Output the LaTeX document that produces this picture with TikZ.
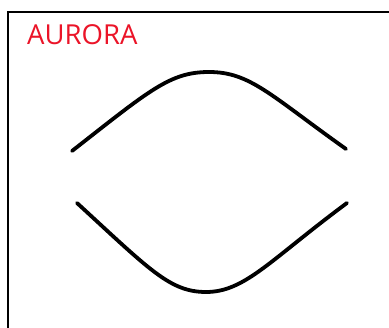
\documentclass[tikz,border=0pt]{standalone}
\usepackage{fontspec}
\setmainfont{Open Sans}
\definecolor{auroraRed}{RGB}{235,20,40}
\tikzset{frameline/.style={line width=2.5pt},
  arc/.style={line width=3.8pt, line cap=round}}
\begin{document}
\begin{tikzpicture}[x=1pt,y=-1pt]
\useasboundingbox[fill=white] (0,0) rectangle (389,328);
\draw[frameline] (8,330) -- (8,12) -- (392,12);
\node[anchor=base west, inner sep=0pt, text=auroraRed, font=\fontsize{27.5}{30}\selectfont] (title) at (27,44.5) {AURORA};
\draw[arc] (72,151) .. controls (150,90) and (170,72) .. (209,72) .. controls (250,72) and (270,95) .. (346,149);
\draw[arc] (77,203) .. controls (150,270) and (170,292) .. (206,292) .. controls (245,292) and (270,260) .. (347,203);
\end{tikzpicture}
\end{document}
